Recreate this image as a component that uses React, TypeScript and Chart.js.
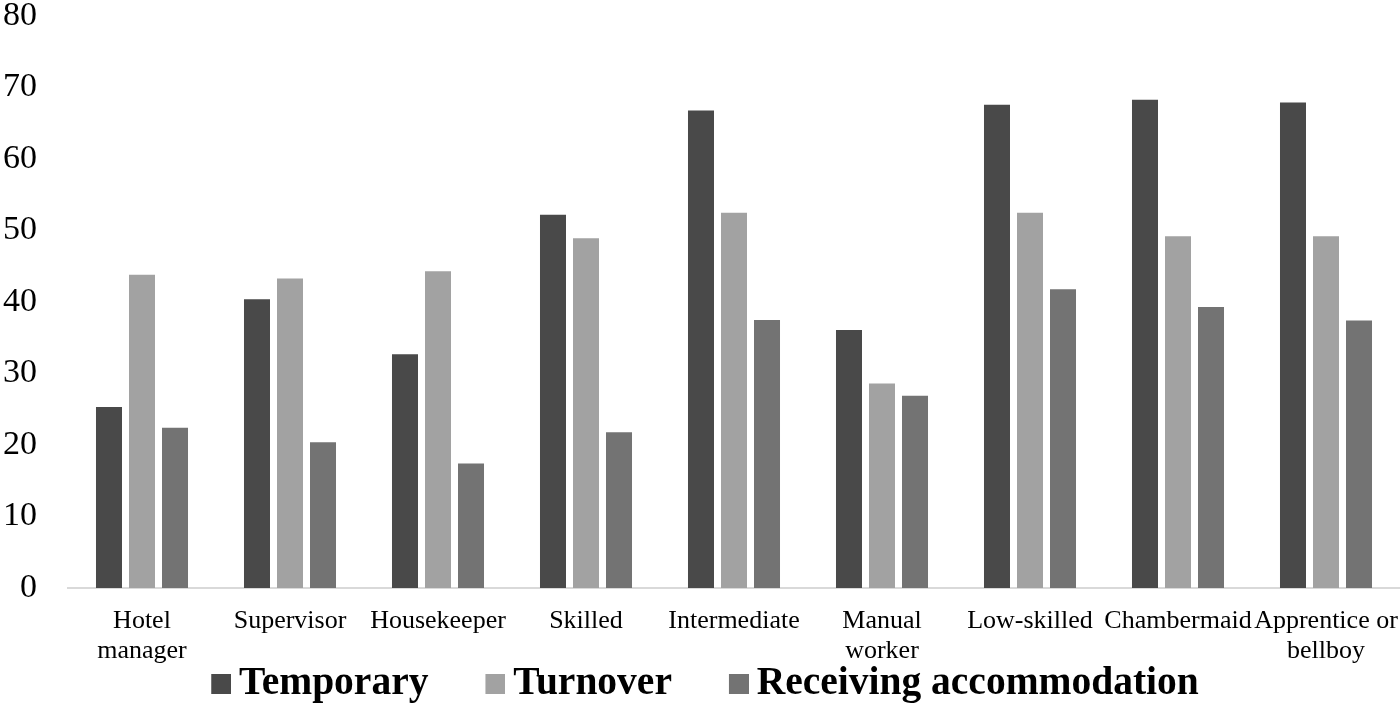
import React, { useEffect, useRef } from "react";
import { Chart, registerables } from "chart.js";

Chart.register(...registerables);

const categories: (string | string[])[] = [
  ["Hotel", "manager"],
  "Supervisor",
  "Housekeeper",
  "Skilled",
  "Intermediate",
  ["Manual", "worker"],
  "Low-skilled",
  "Chambermaid",
  ["Apprentice or", "bellboy"],
];

const seriesNames = ["Temporary", "Turnover", "Receiving accommodation"];
const temporary = [25.3, 40.4, 32.7, 52.2, 66.8, 36.1, 67.6, 68.3, 67.9];
const turnover = [43.8, 43.3, 44.3, 48.9, 52.5, 28.6, 52.5, 49.2, 49.2];
const receiving = [22.4, 20.4, 17.4, 21.8, 37.5, 26.9, 41.8, 39.3, 37.4];
const seriesColors = ["#494949", "#a2a2a2", "#737373"];

const yMin = 0;
const yMax = 80;
const yStep = 10;

function makeLegendSwatch(color: string): HTMLCanvasElement {
  const c = document.createElement("canvas");
  c.width = 86;
  c.height = 20;
  const ctx = c.getContext("2d")!;
  ctx.fillStyle = color;
  ctx.fillRect(66, 0, 20, 20);
  return c;
}

const legendPlace = {
  id: "legendPlace",
  beforeDraw(chart: any) {
    const lg = chart.legend;
    if (lg) {
      lg.left = -22;
      lg.right = chart.width - 22;
      lg.top = chart.height - 44;
      lg.bottom = chart.height;
    }
  },
};

export default function App() {
  const ref = useRef<HTMLCanvasElement | null>(null);

  useEffect(() => {
    if (!ref.current) return;
    const swatches = seriesColors.map(makeLegendSwatch);
    const serif = "'Liberation Serif', 'Times New Roman', serif";
    const chart = new Chart(ref.current, {
      type: "bar",
      data: {
        labels: categories,
        datasets: [temporary, turnover, receiving].map((d, i) => ({
          label: seriesNames[i],
          data: d,
          backgroundColor: seriesColors[i],
          borderWidth: 0,
          categoryPercentage: 0.669,
          barPercentage: 0.788,
        })),
      },
      options: {
        responsive: false,
        animation: false,
        devicePixelRatio: 1,
        layout: { padding: 0 },
        plugins: {
          tooltip: { enabled: false },
          legend: {
            position: "bottom",
            align: "center",
            maxHeight: 34,
            labels: {
              usePointStyle: true,
              pointStyleWidth: 62,
              boxHeight: 20,
              padding: 3,
              color: "#000",
              font: { family: serif, size: 39.5, weight: "bold" },
              generateLabels: (ch: any) => {
                const items = Chart.defaults.plugins.legend.labels.generateLabels(ch);
                return items.map((it: any, i: number) => ({
                  ...it,
                  pointStyle: swatches[i],
                  lineWidth: 0,
                }));
              },
            },
          },
        },
        scales: {
          x: {
            grid: { display: false, drawTicks: false },
            border: { display: true, color: "#d9d9d9", width: 2 },
            ticks: {
              autoSkip: false,
              maxRotation: 0,
              minRotation: 0,
              padding: 18,
              color: "#000",
              font: { family: serif, size: 26, lineHeight: 1.15 },
            },
            afterFit: (s: any) => {
              s.height = 83;
              s.paddingLeft = 0;
              s.paddingRight = 0;
            },
          },
          y: {
            min: yMin,
            max: yMax,
            grid: { display: false, drawTicks: false },
            border: { display: false },
            ticks: {
              stepSize: yStep,
              padding: 31,
              color: "#000",
              font: { family: serif, size: 34, lineHeight: 1 },
            },
            afterFit: (s: any) => {
              s.width = 68;
              s.paddingTop = 16;
              s.paddingBottom = 0;
            },
          },
        },
      },
      plugins: [legendPlace],
    });
    return () => chart.destroy();
  }, []);

  return (
    <div style={{ position: "absolute", left: 0, top: 0, width: 1400, height: 705, background: "#fff" }}>
      <canvas ref={ref} width={1400} height={705} />
    </div>
  );
}
